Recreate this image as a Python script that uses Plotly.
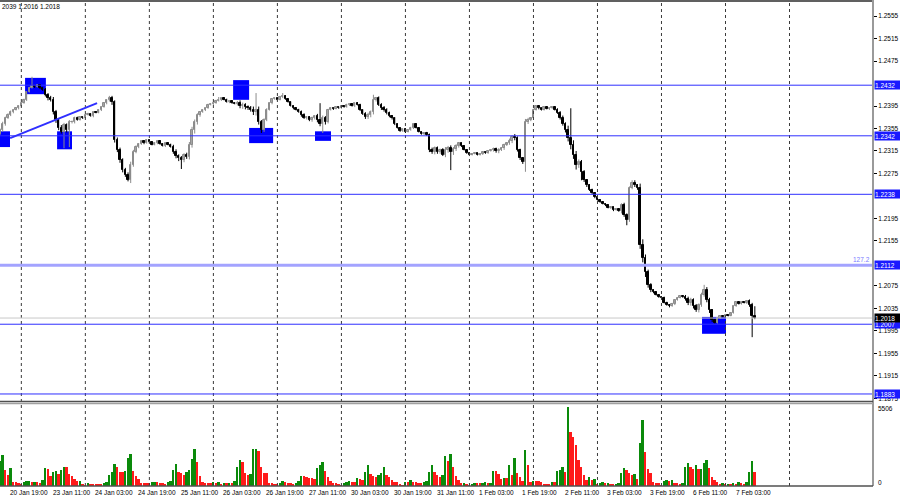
import plotly.graph_objects as go

# ---------------- data (H1 bars, index 0..283) ----------------
closes = [
    1.2352, 1.2363, 1.2374, 1.2379, 1.2384, 1.2388, 1.2391, 1.2395, 1.2400, 1.2406,
    1.2420, 1.2427, 1.2431, 1.2429, 1.2432, 1.2427, 1.2423, 1.2415, 1.2409, 1.2406,
    1.2384, 1.2370, 1.2356, 1.2349, 1.2361, 1.2352, 1.2366, 1.2366, 1.2374, 1.2370,
    1.2375, 1.2374, 1.2379, 1.2381, 1.2377, 1.2384, 1.2383, 1.2388, 1.2393, 1.2400,
    1.2406, 1.2409, 1.2402, 1.2334, 1.2317, 1.2299, 1.2281, 1.2272, 1.2263, 1.2290,
    1.2313, 1.2322, 1.2327, 1.2333, 1.2329, 1.2334, 1.2331, 1.2326, 1.2329, 1.2333,
    1.2327, 1.2324, 1.2329, 1.2326, 1.2322, 1.2313, 1.2306, 1.2302, 1.2299, 1.2308,
    1.2304, 1.2326, 1.2352, 1.2366, 1.2379, 1.2384, 1.2388, 1.2391, 1.2397, 1.2399,
    1.2400, 1.2404, 1.2406, 1.2409, 1.2406, 1.2402, 1.2404, 1.2400, 1.2399, 1.2400,
    1.2395, 1.2397, 1.2393, 1.2391, 1.2388, 1.2384, 1.2388, 1.2366, 1.2352, 1.2370,
    1.2388, 1.2400, 1.2407, 1.2409, 1.2406, 1.2411, 1.2413, 1.2407, 1.2402, 1.2395,
    1.2391, 1.2388, 1.2384, 1.2379, 1.2374, 1.2375, 1.2370, 1.2374, 1.2377, 1.2370,
    1.2363, 1.2374, 1.2366, 1.2388, 1.2391, 1.2390, 1.2393, 1.2391, 1.2395, 1.2393,
    1.2397, 1.2399, 1.2395, 1.2400, 1.2397, 1.2388, 1.2381, 1.2375, 1.2379, 1.2384,
    1.2406, 1.2409, 1.2397, 1.2391, 1.2388, 1.2383, 1.2377, 1.2374, 1.2363, 1.2356,
    1.2350, 1.2354, 1.2349, 1.2352, 1.2356, 1.2363, 1.2356, 1.2349, 1.2345, 1.2347,
    1.2343, 1.2317, 1.2313, 1.2320, 1.2313, 1.2317, 1.2308, 1.2317, 1.2320, 1.2313,
    1.2318, 1.2324, 1.2329, 1.2324, 1.2317, 1.2311, 1.2308, 1.2310, 1.2311, 1.2308,
    1.2310, 1.2313, 1.2311, 1.2315, 1.2317, 1.2318, 1.2315, 1.2317, 1.2320, 1.2326,
    1.2329, 1.2333, 1.2340, 1.2338, 1.2317, 1.2302, 1.2295, 1.2366, 1.2370, 1.2374,
    1.2388, 1.2395, 1.2391, 1.2388, 1.2393, 1.2390, 1.2391, 1.2393, 1.2388, 1.2383,
    1.2374, 1.2363, 1.2352, 1.2338, 1.2326, 1.2308, 1.2290, 1.2295, 1.2278, 1.2263,
    1.2254, 1.2246, 1.2240, 1.2233, 1.2228, 1.2224, 1.2221, 1.2219, 1.2214, 1.2215,
    1.2210, 1.2212, 1.2208, 1.2219, 1.2201, 1.2192, 1.2249, 1.2258, 1.2254, 1.2249,
    1.2148, 1.2125, 1.2100, 1.2077, 1.2068, 1.2064, 1.2059, 1.2055, 1.2054, 1.2045,
    1.2041, 1.2039, 1.2043, 1.2050, 1.2054, 1.2057, 1.2055, 1.2052, 1.2045, 1.2050,
    1.2039, 1.2032, 1.2041, 1.2059, 1.2068, 1.2050, 1.2032, 1.2014, 1.2010, 1.2018,
    1.2022, 1.2020, 1.2023, 1.2022, 1.2027, 1.2039, 1.2046, 1.2043, 1.2046, 1.2045,
    1.2048, 1.2041, 1.2022, 1.2018,
]
first_open = 1.2345

# estimated wick lengths above / below each body, in pips (0.0001)
upper_wick_pips = [
    3, 4, 2, 3, 3, 1, 2, 1, 1, 2,
    1, 2, 2, 1, 2, 1, 2, 4, 3, 4,
    5, 4, 3, 5, 4, 3, 4, 3, 2, 2,
    2, 1, 1, 2, 1, 1, 2, 1, 1, 2,
    1, 3, 4, 3, 5, 4, 3, 4, 5, 6,
    4, 3, 2, 1, 1, 2, 1, 1, 2, 1,
    1, 2, 1, 1, 2, 4, 5, 3, 4, 3,
    4, 5, 6, 5, 3, 2, 1, 1, 2, 1,
    1, 2, 1, 1, 1, 2, 1, 1, 2, 4,
    5, 4, 3, 3, 4, 6, 5, 6, 4, 3,
    3, 1, 1, 1, 1, 2, 1, 1, 1, 1,
    1, 1, 2, 3, 3, 2, 2, 2, 2, 4,
    5, 4, 3, 2, 2, 1, 1, 1, 1, 1,
    2, 1, 1, 1, 2, 2, 1, 3, 4, 3,
    3, 2, 3, 3, 4, 3, 2, 2, 1, 1,
    1, 1, 1, 1, 2, 1, 1, 1, 1, 1,
    2, 3, 4, 3, 3, 2, 3, 5, 4, 5,
    4, 3, 2, 1, 1, 1, 1, 1, 1, 1,
    1, 1, 1, 1, 1, 3, 3, 3, 2, 2,
    2, 4, 3, 5, 3, 2, 2, 6, 4, 1,
    2, 1, 1, 1, 1, 1, 1, 1, 1, 3,
    3, 4, 3, 8, 9, 8, 7, 5, 4, 3,
    2, 2, 2, 2, 1, 1, 1, 1, 1, 1,
    1, 1, 1, 3, 4, 3, 3, 3, 3, 2,
    8, 10, 6, 4, 3, 1, 1, 1, 1, 2,
    2, 2, 2, 1, 1, 1, 1, 4, 4, 4,
    3, 4, 3, 4, 4, 5, 4, 2, 2, 1,
    1, 1, 1, 1, 1, 1, 1, 1, 1, 1,
    1, 3, 4, 3,
]
lower_wick_pips = [
    2, 3, 3, 2, 2, 2, 1, 2, 2, 1,
    2, 1, 1, 2, 1, 2, 1, 3, 4, 3,
    4, 5, 4, 3, 3, 4, 3, 2, 2, 1,
    1, 2, 1, 1, 1, 2, 1, 1, 2, 1,
    2, 3, 5, 4, 4, 5, 4, 3, 3, 5,
    3, 2, 2, 1, 2, 1, 2, 1, 1, 2,
    1, 1, 2, 1, 1, 3, 4, 5, 3, 4,
    3, 4, 5, 6, 4, 3, 1, 2, 1, 1,
    2, 1, 1, 2, 1, 1, 2, 1, 1, 3,
    4, 5, 4, 3, 3, 5, 6, 4, 5, 3,
    2, 1, 2, 1, 1, 1, 2, 1, 1, 1,
    2, 1, 1, 3, 2, 3, 2, 3, 3, 4,
    4, 3, 4, 2, 1, 2, 1, 1, 1, 1,
    1, 2, 1, 2, 1, 2, 2, 3, 3, 4,
    4, 3, 2, 3, 3, 3, 2, 3, 2, 1,
    1, 1, 2, 1, 1, 2, 1, 1, 1, 2,
    1, 4, 3, 4, 3, 3, 2, 4, 5, 4,
    5, 3, 3, 2, 1, 1, 2, 1, 1, 1,
    1, 2, 1, 1, 1, 3, 3, 4, 2, 3,
    2, 3, 4, 4, 3, 3, 3, 5, 3, 2,
    1, 1, 2, 1, 1, 1, 2, 1, 1, 2,
    3, 3, 4, 6, 8, 7, 8, 5, 4, 3,
    3, 2, 2, 2, 1, 1, 1, 2, 1, 2,
    2, 1, 1, 4, 3, 4, 3, 2, 3, 3,
    7, 8, 9, 5, 4, 2, 1, 1, 2, 1,
    1, 2, 1, 2, 1, 1, 1, 3, 4, 5,
    4, 3, 4, 3, 3, 4, 5, 3, 2, 2,
    1, 1, 2, 1, 1, 1, 1, 1, 1, 1,
    2, 3, 4, 2,
]

# clearly visible long wicks (bar index -> price)
wick_highs = {12: 1.2447, 41: 1.2413, 82: 1.2411, 96: 1.2418, 106: 1.2418, 120: 1.2400,
              140: 1.2415, 172: 1.2331, 214: 1.2391, 237: 1.2263, 238: 1.2263,
              264: 1.2077, 283: 1.2039}
wick_lows = {24: 1.2320, 26: 1.2322, 48: 1.2261, 68: 1.2283, 98: 1.2347, 121: 1.2347,
             169: 1.2281, 197: 1.2278, 218: 1.2263, 235: 1.2183, 282: 1.1984, 283: 1.2016}

volumes = [
    1715, 2185, 1130, 775, 1245, 260, 260, 190, 95, 260,
    330, 375, 260, 305, 305, 190, 425, 1245, 1200, 680,
    1010, 1035, 845, 1130, 1360, 1360, 845, 680, 495, 330,
    375, 140, 70, 210, 165, 140, 140, 140, 140, 190,
    260, 800, 965, 1550, 1315, 965, 965, 1080, 1930, 2210,
    1035, 730, 515, 190, 190, 190, 190, 260, 305, 260,
    210, 190, 140, 260, 375, 1150, 1550, 1010, 915, 750,
    1010, 1130, 1900, 2560, 1690, 680, 260, 190, 190, 190,
    260, 210, 260, 140, 190, 190, 210, 210, 375, 1315,
    1790, 1690, 940, 800, 845, 2560, 2610, 2440, 1360, 895,
    895, 210, 210, 140, 95, 235, 330, 260, 210, 190,
    140, 210, 375, 730, 680, 660, 540, 540, 495, 1270,
    1480, 1670, 1080, 610, 330, 190, 190, 140, 50, 210,
    260, 330, 280, 280, 565, 495, 400, 1010, 1500, 845,
    730, 660, 800, 915, 1315, 750, 610, 445, 260, 260,
    140, 70, 305, 305, 425, 260, 260, 210, 210, 260,
    330, 965, 1500, 965, 800, 610, 800, 2070, 1715, 2210,
    1360, 730, 425, 190, 210, 140, 70, 140, 210, 210,
    190, 235, 280, 190, 210, 1080, 1035, 845, 495, 540,
    540, 1435, 800, 1950, 915, 610, 375, 2490, 1500, 260,
    375, 330, 330, 260, 140, 140, 140, 260, 260, 1080,
    1130, 1360, 965, 5506, 3735, 3385, 2845, 1790, 1315, 800,
    445, 610, 445, 495, 140, 190, 260, 190, 210, 140,
    140, 165, 190, 895, 1245, 1130, 895, 800, 845, 495,
    3010, 4610, 2375, 1200, 895, 260, 235, 190, 70, 375,
    400, 375, 425, 235, 190, 140, 190, 1315, 1600, 1360,
    1175, 1455, 1175, 1220, 1600, 1790, 1270, 660, 425, 260,
    140, 190, 140, 165, 140, 235, 140, 260, 190, 165,
    260, 1010, 1715, 1010,
]
volume_max_label = 5506

time_label_bars = [3 + 16 * k for k in range(18)]
time_labels = ["20 Jan 19:00", "23 Jan 11:00", "24 Jan 03:00", "24 Jan 19:00",
               "25 Jan 11:00", "26 Jan 03:00", "26 Jan 19:00", "27 Jan 11:00",
               "30 Jan 03:00", "30 Jan 19:00", "31 Jan 11:00", "1 Feb 03:00",
               "1 Feb 19:00", "2 Feb 11:00", "3 Feb 03:00", "3 Feb 19:00",
               "6 Feb 11:00", "7 Feb 03:00"]
day_separator_bars = [8 + 24 * k for k in range(13)]

price_ticks = [1.1875, 1.1915, 1.1955, 1.1995, 1.2035, 1.2075, 1.2155,
               1.2195, 1.2275, 1.2315, 1.2355, 1.2395, 1.2475,
               1.2515, 1.2555]
levels = [1.2432, 1.2342, 1.2238, 1.2007, 1.1883]
fib_level = 1.2112
fib_label = "127.2"
current_price = 1.2018
header_text = "2039 1.2016 1.2018"

# marked zones: (bar_start, bar_end, price_low, price_high)
zones = [(0.0, 3.75, 1.2322, 1.2350), (9.4, 17.2, 1.2416, 1.2445),
         (21.4, 27.0, 1.2318, 1.2350), (87.4, 93.4, 1.2406, 1.2441),
         (93.4, 102.4, 1.2329, 1.2356), (118.1, 124.1, 1.2333, 1.2350),
         (263.2, 272.2, 1.1990, 1.2020)]
trend_bars = [3.8, 36.4]
trend_prices = [1.2338, 1.2400]

# ---------------- derived OHLC ----------------
n = len(closes)
idx = list(range(n))
PIP = 0.0001
opens = [first_open] + closes[:-1]
highs = [wick_highs.get(i, max(opens[i], closes[i]) + upper_wick_pips[i] * PIP) for i in idx]
lows = [wick_lows.get(i, min(opens[i], closes[i]) - lower_wick_pips[i] * PIP) for i in idx]
bull = [closes[i] >= opens[i] for i in idx]
vol_colors = ["#0a8a0a" if (i == 0 or volumes[i] > volumes[i - 1]) else "#ff1a1a" for i in idx]

# ---------------- layout geometry ----------------
W, H = 900, 500
plot_right = 873 / W
main_top, main_bot = 2, 401
vol_top, vol_bot = 405, 486
def py(pix):
    return (H - pix) / H

y_range = [1.18705, 1.25799]
x_range = [0, 327.3]
v_range = [0, 5650]

BLUE = "#2f2fff"
FONT = "Liberation Sans"
FS = 6.5
BULL_FILL, BULL_LINE = "#b9b9b9", "#8c8c8c"
BEAR = "#000000"

fig = go.Figure()

# wicks
for is_bull, col in ((True, BULL_LINE), (False, BEAR)):
    wx, wy = [], []
    for i in idx:
        if bull[i] == is_bull:
            wx += [i, i, None]
            wy += [lows[i], highs[i], None]
    fig.add_trace(go.Scatter(x=wx, y=wy, mode="lines", line=dict(color=col, width=1),
                             hoverinfo="skip", showlegend=False, xaxis="x", yaxis="y"))
# bodies
for is_bull, fill, edge in ((True, BULL_FILL, BULL_LINE), (False, BEAR, BEAR)):
    bx = [i for i in idx if bull[i] == is_bull]
    fig.add_trace(go.Bar(
        x=bx, base=[min(opens[i], closes[i]) for i in bx],
        y=[abs(closes[i] - opens[i]) for i in bx],
        marker=dict(color=fill, line=dict(color=edge, width=1)), width=0.55,
        hoverinfo="skip", showlegend=False, xaxis="x", yaxis="y"))

fig.add_trace(go.Bar(
    x=idx, y=volumes, marker=dict(color=vol_colors, line=dict(width=0)),
    width=0.72, hoverinfo="skip", showlegend=False, xaxis="x2", yaxis="y2"))

shapes = []
for x0, x1, p0, p1 in zones:
    shapes.append(dict(type="rect", xref="x", yref="y", x0=x0, x1=x1, y0=p0, y1=p1,
                       fillcolor="#0000ff", line=dict(width=0), layer="below"))
for b in day_separator_bars:
    shapes.append(dict(type="line", xref="x", yref="paper", x0=b, x1=b,
                       y0=py(vol_bot), y1=py(main_top),
                       line=dict(color="#3a3a3a", width=1, dash="dot")))
for lv in levels:
    shapes.append(dict(type="line", xref="paper", yref="y", x0=0, x1=plot_right,
                       y0=lv, y1=lv, line=dict(color=BLUE, width=1)))
shapes.append(dict(type="line", xref="paper", yref="y", x0=0, x1=plot_right,
                   y0=fib_level, y1=fib_level, line=dict(color="#a3a3ff", width=3)))
shapes.append(dict(type="line", xref="paper", yref="y", x0=0, x1=plot_right,
                   y0=current_price, y1=current_price, line=dict(color="#c8c8c8", width=1)))
shapes.append(dict(type="line", xref="x", yref="y", x0=trend_bars[0], x1=trend_bars[1],
                   y0=trend_prices[0], y1=trend_prices[1], line=dict(color=BLUE, width=2)))
shapes.append(dict(type="line", xref="paper", yref="paper", x0=0, x1=plot_right,
                   y0=py(1), y1=py(1), line=dict(color="#606060", width=2)))
shapes.append(dict(type="line", xref="paper", yref="paper", x0=plot_right, x1=plot_right,
                   y0=py(vol_bot), y1=py(0), line=dict(color="#9a9a9a", width=2)))
shapes.append(dict(type="line", xref="paper", yref="paper", x0=0, x1=plot_right,
                   y0=py(401.5), y1=py(401.5), line=dict(color="#505050", width=1.5)))
shapes.append(dict(type="line", xref="paper", yref="paper", x0=0, x1=plot_right,
                   y0=py(403.5), y1=py(403.5), line=dict(color="#a0a0a0", width=1.5)))
shapes.append(dict(type="line", xref="paper", yref="paper", x0=0, x1=plot_right,
                   y0=py(vol_bot), y1=py(vol_bot), line=dict(color="#505050", width=1.5)))

annotations = []
for b, t in zip(time_label_bars, time_labels):
    annotations.append(dict(x=b, xref="x", y=py(492), yref="paper", text=t,
                            showarrow=False, xanchor="left", yanchor="middle",
                            font=dict(family=FONT, size=FS, color="#000000")))
for lv in levels + [fib_level]:
    annotations.append(dict(x=plot_right + 1 / W, xref="paper", y=lv, yref="y",
                            text="%.4f" % lv, showarrow=False, xanchor="left", yanchor="middle",
                            bgcolor="#1a1aff", width=25, height=8, borderpad=0, align="left",
                            font=dict(family=FONT, size=FS, color="#ffffff")))
annotations.append(dict(x=plot_right + 1 / W, xref="paper", y=current_price, yref="y",
                        text="%.4f" % current_price, showarrow=False, xanchor="left",
                        yanchor="middle", bgcolor="#000000", width=25, height=8, borderpad=0,
                        align="left", font=dict(family=FONT, size=FS, color="#ffffff")))
annotations.append(dict(x=plot_right - 1 / W, xref="paper", y=fib_level, yref="y",
                        text=fib_label, showarrow=False, xanchor="right", yanchor="bottom",
                        font=dict(family=FONT, size=FS, color="#7b7bff")))
annotations.append(dict(x=0, xref="paper", y=py(6), yref="paper", text=header_text,
                        showarrow=False, xanchor="left", yanchor="middle",
                        font=dict(family=FONT, size=FS, color="#000000")))
annotations.append(dict(x=plot_right + 3 / W, xref="paper", y=py(408), yref="paper",
                        text=str(volume_max_label), showarrow=False, xanchor="left",
                        yanchor="middle", font=dict(family=FONT, size=FS, color="#000000")))
annotations.append(dict(x=plot_right + 3 / W, xref="paper", y=py(482), yref="paper",
                        text="0", showarrow=False, xanchor="left",
                        yanchor="middle", font=dict(family=FONT, size=FS, color="#000000")))

fig.update_layout(
    width=W, height=H, margin=dict(l=0, r=0, t=0, b=0),
    paper_bgcolor="#ffffff", plot_bgcolor="#ffffff", barmode="overlay",
    shapes=shapes, annotations=annotations, bargap=0,
    xaxis=dict(domain=[0, plot_right], range=x_range, showgrid=False, zeroline=False,
               showticklabels=False, showline=False, anchor="y", fixedrange=True),
    xaxis2=dict(domain=[0, plot_right], range=x_range, showgrid=False, zeroline=False,
                showticklabels=False, showline=False, anchor="y2", matches="x"),
    yaxis=dict(domain=[py(main_bot), py(main_top)], range=y_range, side="right",
               anchor="x", showgrid=False, zeroline=False, showline=False,
               tickvals=price_ticks, ticktext=["%.4f" % t for t in price_ticks],
               ticks="outside", ticklen=3, tickcolor="#000000",
               tickfont=dict(family=FONT, size=FS, color="#000000")),
    yaxis2=dict(domain=[py(vol_bot), py(vol_top)], range=v_range, side="right",
                anchor="x2", showgrid=False, zeroline=False, showline=False,
                showticklabels=False),
)

fig.write_html("out.html", config={"displayModeBar": False},
               post_script="document.body.style.margin='0px';document.body.style.overflow='hidden';")
